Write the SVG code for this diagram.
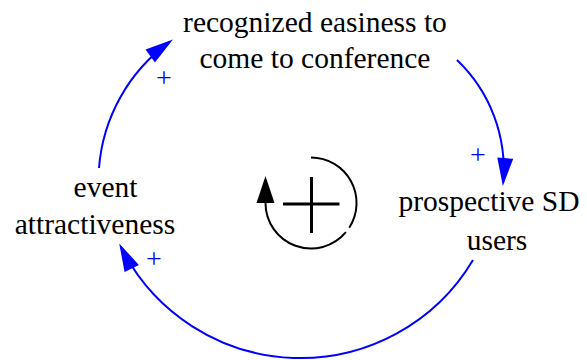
<svg xmlns="http://www.w3.org/2000/svg" width="587" height="360" viewBox="0 0 587 360">
<style>
.lbl{font-size:29.5px;fill:#000;text-anchor:middle}
.pol{font-size:28px;fill:#0000ff;text-anchor:middle}
.link{fill:none;stroke:#0000ff;stroke-width:2;marker-end:url(#ab)}
.loop{fill:none;stroke:#000;stroke-width:2}
</style>
<defs>
<marker id="ab" markerUnits="userSpaceOnUse" markerWidth="30" markerHeight="18" refX="24" refY="8" orient="auto" overflow="visible">
<path d="M0,0 L28,8 L0,16 z" fill="#0000ff"/>
</marker>
<marker id="ak" markerUnits="userSpaceOnUse" markerWidth="28" markerHeight="18" refX="0" refY="9" orient="auto" overflow="visible">
<path d="M0,0 L27,9 L0,18 z" fill="#000"/>
</marker>
</defs>
<g font-family="Liberation Serif, Times New Roman, DejaVu Serif, serif">
<g id="connectors">
<path class="link" d="M99,168 A171.5,171.5 0 0,1 169.7,41.9"/>
<path class="link" d="M457,60 A151,151 0 0,1 503.2,182.1"/>
<path class="link" d="M473,260 A200.7,200.7 0 0,1 121,247"/>
<text class="pol" x="164" y="87">+</text>
<text class="pol" x="478" y="164">+</text>
<text class="pol" x="154" y="268">+</text>
</g>
<g id="recognized_easiness">
<text class="lbl" x="315" y="32">recognized easiness to</text>
<text class="lbl" x="315" y="68">come to conference</text>
</g>
<g id="prospective_users">
<text class="lbl" x="489" y="211">prospective SD</text>
<text class="lbl" x="497" y="250">users</text>
</g>
<g id="event_attractiveness">
<text class="lbl" x="105.5" y="197">event</text>
<text class="lbl" x="95" y="234">attractiveness</text>
</g>
</g>
<g id="loop_R">
<path class="loop" d="M311,157.5 A45.5,45.5 0 0,1 349.2,227.8"/>
<path class="loop" d="M345.9,232.2 A45.5,45.5 0 0,1 265.5,203" marker-end="url(#ak)"/>
<line x1="283" y1="204" x2="339.5" y2="204" stroke="#000" stroke-width="3"/>
<line x1="311.5" y1="177" x2="311.5" y2="233" stroke="#000" stroke-width="3"/>
</g>
</svg>
